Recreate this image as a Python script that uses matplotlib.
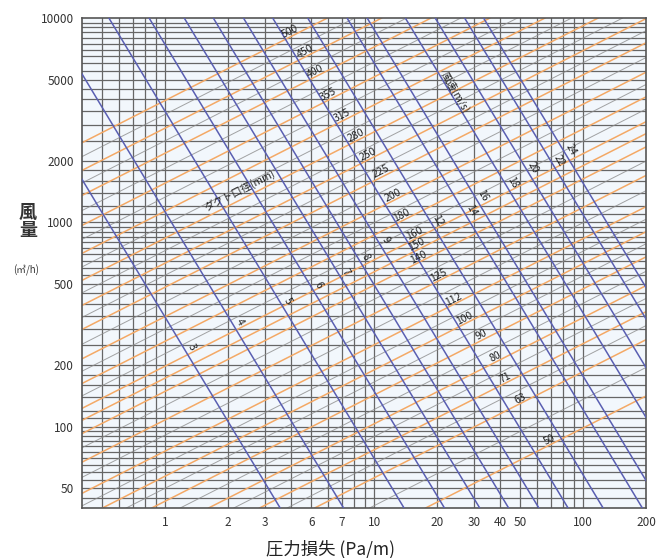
import numpy as np
import matplotlib
matplotlib.use("Agg")
import matplotlib.pyplot as plt

plt.rcParams['font.family'] = ['Noto Sans CJK JP', 'DejaVu Sans']

# duct diameter lines (mm): air flow (m3/h) read at 1 Pa/m and at 100 Pa/m
diam = [500, 450, 400, 355, 315, 280, 250, 225, 200, 180, 160,
        150, 140, 125, 112, 100, 90, 80, 71, 63, 50]
diam_q1 = [3951, 2894, 2182, 1557, 1136, 838, 632, 482, 346, 262, 198,
           173, 149, 108, 76, 57.3, 43.2, 31.2, 23.3, 17.0, 9.0]
diam_q100 = [43300, 31720, 23910, 17060, 12450, 9180, 6930, 5280, 3790, 2870, 2170,
             1896, 1633, 1184, 833, 628, 473, 342, 255, 186, 98.6]
# pressure loss where each diameter label sits
diam_lab_r = [3.95, 4.66, 5.21, 6.01, 7.02, 8.19, 9.35, 10.8, 12.3, 13.5, 15.6,
              15.9, 16.3, 20.3, 24.0, 27.1, 32.7, 37.8, 42.2, 49.8, 68.7]

# thin grey lines between the diameter lines
grey_q1 = [3380, 2510, 1840, 1330, 975, 728, 552, 408, 301, 228,
           127, 91, 66, 50, 36.7, 27, 19.9, 12.4]
grey_q100 = [37050, 27510, 20170, 14580, 10690, 7980, 6050, 4470, 3300, 2500,
             1392, 997, 723, 548, 402, 296, 218, 136]

# velocity lines (m/s): pressure loss read at 10000 m3/h and at 40 m3/h
vel = [3, 4, 5, 6, 7, 8, 9, 10, 12, 14, 16, 18, 20, 22, 24]
vel_r_top = [0.137, 0.276, 0.538, 0.838, 1.234, 1.70, 2.37, 3.27,
             4.81, 7.42, 9.26, 14.1, 19.6, 27.1, 33.4]
vel_r_bot = [3.55, 7.14, 13.9, 21.7, 32.0, 44.0, 61.4, 84.7,
             124.6, 192, 240, 365, 508, 702, 865]
# air flow where each velocity label sits (None = no label)
vel_lab_q = [245, 325, 412, 493, 571, 676, 819, None,
             1026, 1148, 1361, 1575, 1866, 2018, 2260]

xticks = [1, 2, 3, 5, 7, 10, 20, 30, 40, 50, 100, 200]
xtick_labels = ['1', '2', '3', '6', '7', '10', '20', '30', '40', '50', '100', '200']
yticks = [50, 100, 200, 500, 1000, 2000, 5000, 10000]

grid_steps = [1, 1.1, 1.2, 1.4, 1.6, 1.8, 2, 2.5, 3, 3.5, 4, 4.5,
              5, 5.5, 6, 6.5, 7, 7.5, 8, 8.5, 9, 9.5]

orange = '#f4a966'
blue = '#5a5fb2'
grid_c = '#666666'

fig = plt.figure(figsize=(6.62, 5.58), dpi=100)
ax = fig.add_axes([0.1239, 0.0896, 0.852, 0.878])
ax.set_facecolor('#f2f7fc')
ax.set_xscale('log')
ax.set_yscale('log')
xmin, xmax, ymin, ymax = 0.4, 200, 40, 10000
ax.set_xlim(xmin, xmax)
ax.set_ylim(ymin, ymax)

# grid
for dec in [0.1, 1, 10, 100]:
    for m in range(1, 10):
        v = dec * m
        if xmin < v < xmax:
            ax.axvline(v, color=grid_c, lw=0.9, zorder=1)
for dec in [10, 100, 1000]:
    for m in grid_steps:
        v = dec * m
        if ymin < v < ymax:
            ax.axhline(v, color=grid_c, lw=0.9, zorder=1)

# grey and orange diameter lines (straight on the log-log screen)
for a, b in zip(grey_q1, grey_q100):
    ax.axline((1, a), (100, b), color='#8c8c8c', lw=0.7, alpha=0.8, zorder=2)
for a, b in zip(diam_q1, diam_q100):
    ax.axline((1, a), (100, b), color=orange, lw=1.1, zorder=2)

# blue velocity lines
for rt, rb in zip(vel_r_top, vel_r_bot):
    ax.axline((rt, ymax), (rb, ymin), color=blue, lw=1.1, zorder=3)

# diameter labels
for d, a, b, r in zip(diam, diam_q1, diam_q100, diam_lab_r):
    q = 10 ** np.interp(np.log10(r), [0, 2], [np.log10(a), np.log10(b)])
    ax.annotate(str(d), (r, q), xytext=(0, 4), textcoords='offset points',
                ha='center', va='center', rotation=27, fontsize=7.5,
                color='#222222', zorder=5)

# velocity labels
for v, rt, rb, q in zip(vel, vel_r_top, vel_r_bot, vel_lab_q):
    if q is None:
        continue
    r = 10 ** np.interp(np.log10(q), [np.log10(ymin), np.log10(ymax)],
                        [np.log10(rb), np.log10(rt)])
    ax.annotate(str(v), (r, q), xytext=(6, 0), textcoords='offset points',
                ha='center', va='center', rotation=-60, fontsize=7.5,
                color='#222222', zorder=5)

ax.text(2.27, 1440, 'ダクト口径(mm)', rotation=27, ha='center', va='center',
        fontsize=7.5, color='#222222', zorder=5)
ax.text(24.5, 4345, '風速(m/s)', rotation=-60, ha='center', va='center',
        fontsize=7.5, color='#222222', zorder=5)

ax.set_xticks(xticks)
ax.set_xticklabels(xtick_labels)
ax.set_yticks(yticks)
ax.set_yticklabels([str(v) for v in yticks])
ax.minorticks_off()
ax.tick_params(length=0, labelsize=8.5, colors='#333333', pad=6)
for s in ax.spines.values():
    s.set_color('#555555')
    s.set_linewidth(1.2)

fig.text(0.042, 0.620, '風', fontsize=13, fontweight='bold', ha='center', va='center', color='#333333')
fig.text(0.042, 0.587, '量', fontsize=13, fontweight='bold', ha='center', va='center', color='#333333')
fig.text(0.040, 0.516, '(㎥/h)', fontsize=7, ha='center', va='center', color='#333333')
fig.text(0.4985, 0.016, '圧力損失 (Pa/m)', fontsize=12.5, ha='center', va='center', color='#222222')

fig.savefig('out.png', dpi=100)
